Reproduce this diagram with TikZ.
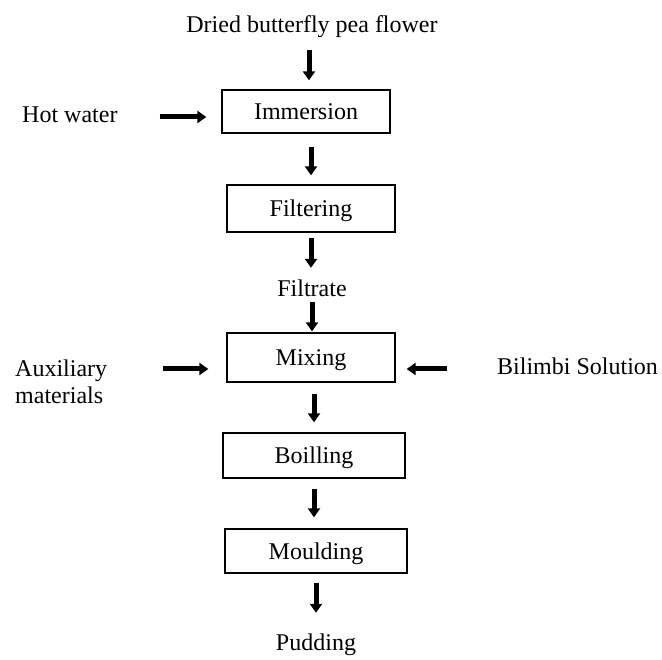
\documentclass[tikz,border=0pt]{standalone}
\usepackage{fontspec}
\setmainfont{Liberation Serif}
\usetikzlibrary{arrows.meta}
\tikzset{process/.style = {shape=rectangle,draw,line width=1.3pt,inner sep=0pt,
    text height=16pt,text depth=0pt,font=\fontsize{24}{27}\selectfont}}
\tikzset{label/.style = {inner sep=0pt,text height=17pt,text depth=5pt,
    font=\fontsize{24}{27}\selectfont}}
\tikzset{flow/.style = {-{Triangle[width=12pt,length=9pt]},line width=5pt}}

\begin{document}
\begin{tikzpicture}[x=1pt,y=-1pt]
            \useasboundingbox (0,0) rectangle (662,660);

            % Steps
            \node[process,minimum width=168pt,minimum height=43pt] (immersion) at (306,111.5) {Immersion};
            \node[process,minimum width=168pt,minimum height=47pt] (filtering) at (311,208.5) {Filtering};
            \node[process,minimum width=168pt,minimum height=49pt] (mixing) at (311,357.5) {Mixing};
            \node[process,minimum width=182pt,minimum height=45pt] (boilling) at (314,455.5) {Boilling};
            \node[process,minimum width=182pt,minimum height=44pt] (moulding) at (316,551) {Moulding};

            % Inputs and products
            \node[label] (dried) at (312,27) {Dried butterfly pea flower};
            \node[label,anchor=west] (hot) at (22,117) {Hot water};
            \node[label] (filtrate) at (312,291) {Filtrate};
            \node[inner sep=0pt,align=left,anchor=north west,font=\fontsize{24}{27}\selectfont] (aux) at (15,359.5) {Auxiliary\\materials};
            \node[label,anchor=west] (bilimbi) at (497,369) {Bilimbi Solution};
            \node[label] (pudding) at (316,644) {Pudding};

            % Arrows
            \draw[flow,shorten <=12pt,shorten >=9pt] ([xshift=-3pt]dried.south) to ([xshift=-3pt]dried.south |- immersion.north);
            \draw[flow,shorten <=42pt,shorten >=15pt] (hot.east) to (immersion.west |- hot.east);
            \draw[flow,shorten <=13pt,shorten >=9pt] (filtering.north |- immersion.south) to (filtering.north);
            \draw[flow,shorten <=5pt,shorten >=12pt] (filtering.south) to (filtering.south |- filtrate.north);
            \draw[flow,shorten <=0pt,shorten >=1pt] (filtrate.south) to (filtrate.south |- mixing.north);
            \draw[flow,shorten <=56pt,shorten >=18pt] (aux.east |- bilimbi) to (mixing.west |- bilimbi);
            \draw[flow,shorten <=50pt,shorten >=11pt] (bilimbi.west) to (mixing.east |- bilimbi);
            \draw[flow,shorten <=11pt,shorten >=10pt] (mixing.south -| boilling) to (boilling.north);
            \draw[flow,shorten <=10pt,shorten >=11pt] (boilling.south) to (boilling.south |- moulding.north);
            \draw[flow,shorten <=9pt,shorten >=20pt] (moulding.south) to (moulding.south |- pudding.north);
        \end{tikzpicture}
\end{document}
